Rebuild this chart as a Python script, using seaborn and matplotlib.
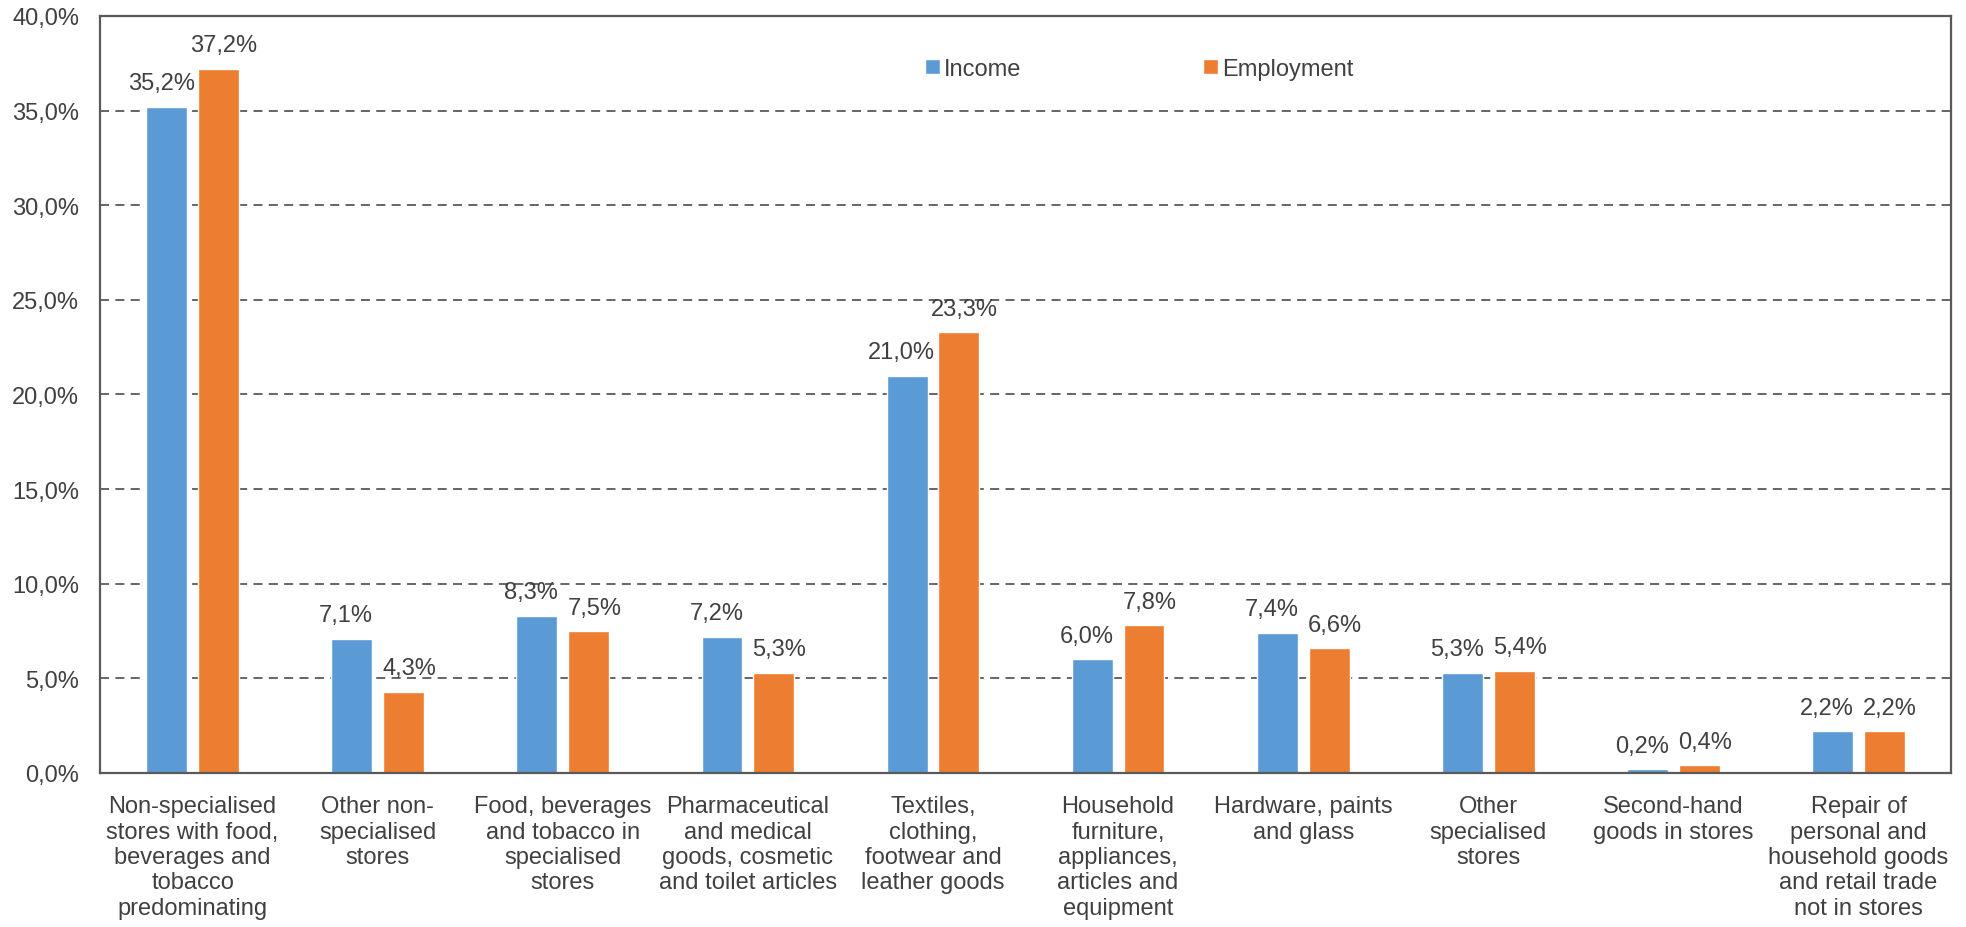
import matplotlib
matplotlib.use("Agg")
import matplotlib.pyplot as plt
import seaborn as sns
import pandas as pd
import numpy as np

categories = [
    "Non-specialised\nstores with food,\nbeverages and\ntobacco\npredominating",
    "Other non-\nspecialised\nstores",
    "Food, beverages\nand tobacco in\nspecialised\nstores",
    "Pharmaceutical\nand medical\ngoods, cosmetic\nand toilet articles",
    "Textiles,\nclothing,\nfootwear and\nleather goods",
    "Household\nfurniture,\nappliances,\narticles and\nequipment",
    "Hardware, paints\nand glass",
    "Other\nspecialised\nstores",
    "Second-hand\ngoods in stores",
    "Repair of\npersonal and\nhousehold goods\nand retail trade\nnot in stores",
]
income = [35.2, 7.1, 8.3, 7.2, 21.0, 6.0, 7.4, 5.3, 0.2, 2.2]
employment = [37.2, 4.3, 7.5, 5.3, 23.3, 7.8, 6.6, 5.4, 0.4, 2.2]
series_names = ["Income", "Employment"]
y_ticks = [0, 5, 10, 15, 20, 25, 30, 35, 40]

colors = ["#5B9BD5", "#ED7D31"]
text_color = "#404040"
spine_color = "#595959"

sns.set_theme(style="white")
plt.rcParams["font.family"] = ["Liberation Sans", "DejaVu Sans"]

df = pd.DataFrame({
    "category": categories * 2,
    "series": [series_names[0]] * len(categories) + [series_names[1]] * len(categories),
    "value": income + employment,
})

fig = plt.figure(figsize=(19.66, 9.28), dpi=100)
ax = fig.add_axes([0.0509, 0.166, 0.9924 - 0.0509, 0.9817 - 0.166])

sns.barplot(data=df, x="category", y="value", hue="series", order=categories,
            hue_order=series_names, palette=colors, width=0.56, gap=0.21,
            saturation=1, ax=ax, legend=True)

ax.set_ylim(0, 40)
ax.set_xlim(-0.5, len(categories) - 0.5)
ax.set_yticks(y_ticks)
ax.set_yticklabels([f"{t:.1f}".replace(".", ",") + "%" for t in y_ticks])
ax.set_xlabel("")
ax.set_ylabel("")
ax.tick_params(axis="both", length=0, labelsize=17, colors=text_color)
ax.tick_params(axis="y", pad=15)
ax.tick_params(axis="x", pad=16)
for lab in ax.get_xticklabels():
    lab.set_linespacing(1.2)
    lab.set_verticalalignment("top")

for t in y_ticks[1:-1]:
    ax.axhline(t, color=spine_color, linestyle=(0, (5, 3.5)), linewidth=1.3, zorder=0)

for s in ax.spines.values():
    s.set_visible(True)
    s.set_color(spine_color)
    s.set_linewidth(1.6)

offsets = [-4, 4]
for container, dx in zip(ax.containers, offsets):
    labels = [f"{v:.1f}".replace(".", ",") + "%" for v in container.datavalues]
    anns = ax.bar_label(container, labels=labels, padding=9, fontsize=17, color=text_color)
    for a in anns:
        a.xyann = (dx, 9)

handles, lbls = ax.get_legend_handles_labels()
ax.legend(handles, lbls, loc="center", bbox_to_anchor=(0.5616, 0.93), ncol=2,
          frameon=False, fontsize=17, handlelength=0.6, handleheight=0.6,
          handletextpad=0.2, columnspacing=7.7, labelcolor=text_color)

fig.savefig("out.png", dpi=100)
